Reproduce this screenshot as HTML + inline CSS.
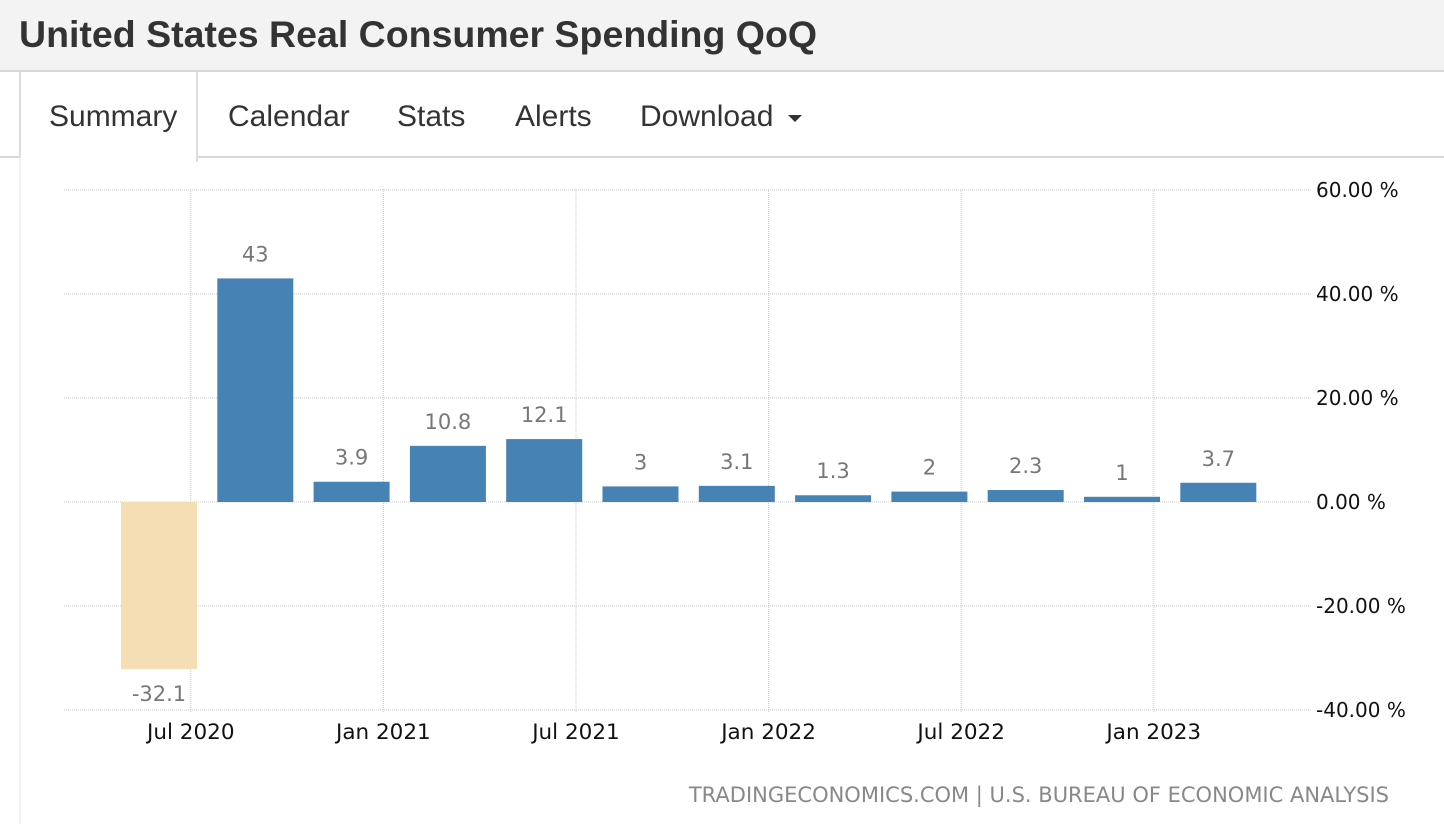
<!DOCTYPE html>
<html><head><meta charset="utf-8"><style>
html,body{margin:0;padding:0;width:1444px;height:824px;overflow:hidden;background:#fff;font-family:"Liberation Sans",sans-serif}
#title{position:absolute;left:0;top:0;width:1444px;height:72px;background:#f3f3f3;border-bottom:2px solid #d8d8d8;box-sizing:border-box}
#title h1{margin:0;position:absolute;left:19px;top:13px;font-size:37.5px;font-weight:bold;color:#333}
.tabline{position:absolute;top:156px;height:2px;background:#d8d8d8}
.tab{position:absolute;top:100px;font-size:30px;color:#333}
#sum{position:absolute;left:19px;top:72px;width:179px;height:90px;border-left:2px solid #ddd;border-right:2px solid #ddd;background:#fff;box-sizing:border-box}
#leftline{position:absolute;left:19px;top:158px;width:2px;height:666px;background:#f2f2f2}
svg{position:absolute;left:0;top:0}
</style></head><body>
<div id="title"><h1>United States Real Consumer Spending QoQ</h1></div>
<div class="tabline" style="left:0;width:19px"></div>
<div class="tabline" style="left:198px;width:1246px"></div>
<div id="sum"><span style="position:absolute;left:28px;top:28px;font-size:30px;color:#333">Summary</span></div>
<div id="leftline"></div>
<div class="tab" style="left:228px">Calendar</div>
<div class="tab" style="left:397px">Stats</div>
<div class="tab" style="left:515px">Alerts</div>
<div class="tab" style="left:640px">Download <span style="display:inline-block;width:0;height:0;border-left:7px solid transparent;border-right:7px solid transparent;border-top:7px solid #333;vertical-align:middle;margin-left:6px"></span></div>
<svg id="chart" width="1444" height="824"></svg>
<script>
const values=[-32.1,43,3.9,10.8,12.1,3,3.1,1.3,2,2.3,1,3.7];
const labels=["-32.1","43","3.9","10.8","12.1","3","3.1","1.3","2","2.3","1","3.7"];
const yTicks=[60,40,20,0,-20,-40];
const yTickLabels=["60.00 %","40.00 %","20.00 %","0.00 %","-20.00 %","-40.00 %"];
const xTickLabels=["Jul 2020","Jan 2021","Jul 2021","Jan 2022","Jul 2022","Jan 2023"];
const xTickIndex=[0.33,2.33,4.33,6.33,8.33,10.33];
const svg=document.getElementById('chart');
const NS='http://www.w3.org/2000/svg';
const y=v=>502-v*5.2;
const xc=i=>159+i*96.3;
function mk(t,a){const e=document.createElementNS(NS,t);for(const k in a)e.setAttribute(k,a[k]);svg.appendChild(e);return e;}
yTicks.forEach((t,i)=>{
 const l=mk('line',{x1:64,x2:1312,y1:y(t),y2:y(t),stroke:'#ccc','stroke-dasharray':'1,1'});
 
 
 const tx=mk('text',{x:1316,y:y(t)+7,'font-size':20,fill:'#111','font-family':'DejaVu Sans, sans-serif'});
 tx.textContent=yTickLabels[i];
 
 
});
xTickLabels.forEach((s,i)=>{
 const x=xc(xTickIndex[i]);
 const l=mk('line',{x1:x,x2:x,y1:189,y2:712,stroke:'#ccc','stroke-dasharray':'1,1'});
 
 
 const tx=mk('text',{x:x,y:739,'font-size':21.5,fill:'#111','text-anchor':'middle','font-family':'DejaVu Sans, sans-serif'});
 tx.textContent=s;
 
 
});
values.forEach((v,i)=>{
 const top=Math.min(y(v),y(0)),h=Math.abs(y(v)-y(0));
 const r=mk('rect',{x:xc(i)-38,y:top,width:76,height:h,fill:v<0?'#f5deb3':'#4682b4'});
 
 
 const ly=v<0?y(v)+32:y(v)-17;
 const tx=mk('text',{x:xc(i),y:ly,'font-size':21,fill:'#777','text-anchor':'middle','font-family':'DejaVu Sans, sans-serif'});
 tx.textContent=labels[i];
 
 
});
const src=mk('text',{x:1389,y:802,'font-size':21,fill:'#888','text-anchor':'end','font-family':'DejaVu Sans, sans-serif'});
src.textContent='TRADINGECONOMICS.COM | U.S. BUREAU OF ECONOMIC ANALYSIS';


</script>
</body></html>
